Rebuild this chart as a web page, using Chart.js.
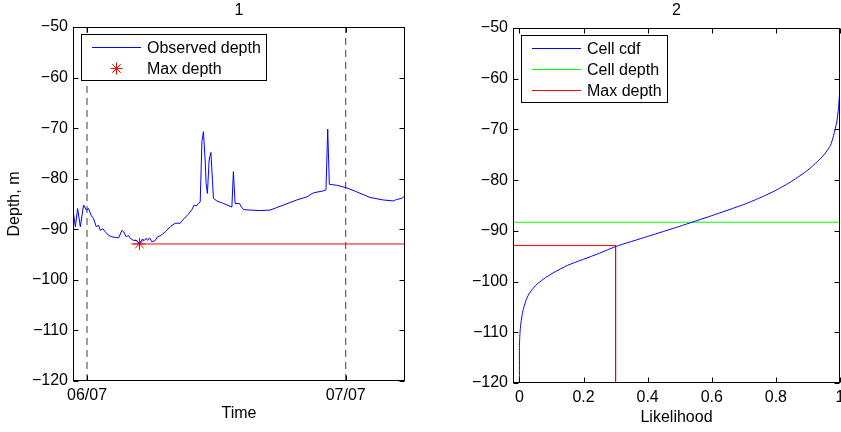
<!DOCTYPE html>
<html>
<head>
<meta charset="utf-8">
<title>Depth</title>
<script src="https://cdn.jsdelivr.net/npm/chart.js@4.4.1/dist/chart.umd.min.js"></script>
<style>
  html, body { margin: 0; padding: 0; background: #fff; overflow: hidden; }
  #wrap { position: relative; width: 841px; height: 432px; }
  #left { position: absolute; left: 0; top: 0; }
  #right { position: absolute; left: 420px; top: 0; }
</style>
</head>
<body>
<div id="wrap">
  <canvas id="left" width="420" height="432"></canvas>
  <canvas id="right" width="430" height="432"></canvas>
</div>
<script>
// panel 1: observed depth, x in hours after 06/07 00:00
const obsHours = [-1.30, -1.08, -0.87, -0.62, -0.32, -0.06, 0.15, 0.37, 0.61, 0.86,
  1.07, 1.23, 1.48, 1.70, 2.00, 2.32, 2.62, 2.93, 3.24, 3.40,
  3.64, 3.85, 4.01, 4.32, 4.63, 4.87, 5.10, 5.31, 5.49, 5.62,
  5.80, 6.02, 6.33, 6.54, 6.86, 7.26, 7.72, 8.18, 8.65, 8.95,
  9.41, 9.73, 9.94, 10.13, 10.34, 10.50, 10.66, 10.80, 10.96, 11.05,
  11.17, 11.33, 11.49, 11.64, 11.73, 12.05, 12.66, 13.44, 13.58, 13.74,
  14.14, 14.27, 14.51, 15.13, 16.06, 16.98, 17.61, 18.22, 19.46, 20.39,
  20.69, 21.00, 21.92, 22.17, 22.33, 22.48, 23.17, 24.09, 25.02, 26.25,
  27.48, 28.41, 28.72, 29.19, 29.49];
const obsDepth = [-86.2, -89.5, -85.9, -89.5, -85.2, -86.2, -85.9, -87.2, -87.9, -89.5,
  -89.2, -90.2, -89.9, -90.5, -91.2, -91.5, -91.6, -91.7, -90.2, -90.5,
  -91.5, -91.2, -91.8, -92.2, -92.2, -92.9, -92.0, -92.2, -91.8, -92.2,
  -91.7, -92.5, -92.2, -91.5, -91.2, -90.5, -89.5, -88.8, -88.8, -88.0,
  -87.0, -86.1, -85.2, -85.4, -84.9, -84.6, -72.7, -70.7, -76.3, -80.9,
  -82.9, -76.3, -74.8, -80.3, -83.9, -84.4, -84.9, -85.6, -78.6, -84.9,
  -84.9, -85.4, -86.1, -86.2, -86.3, -86.2, -85.7, -85.2, -84.2, -83.6,
  -83.2, -82.8, -82.4, -82.2, -70.2, -81.1, -81.3, -81.8, -82.6, -83.7,
  -84.2, -84.4, -84.1, -83.9, -83.4];
const timeTicks = [0, 24];
const timeTickLabels = ['06/07', '07/07'];
const timeRange = [-1.3, 29.5];
const maxDepthHour = 4.87;
const maxDepth = -92.9;
const maxLineStart = 4.1;

// panel 2: depth cdf of the cell
const cdfLikelihood = [0, 0, 0.001, 0.002, 0.004, 0.008, 0.012, 0.02, 0.03, 0.05,
  0.075, 0.105, 0.15, 0.2, 0.25, 0.30, 0.40, 0.50, 0.60, 0.70,
  0.75, 0.80, 0.85, 0.90, 0.93, 0.95, 0.97, 0.98, 0.99, 0.995,
  0.998, 1.0, 1.0];
const cdfDepth = [-120, -113, -111, -110, -108.5, -106.8, -105.5, -103.8, -102.4, -100.8,
  -99.5, -98.3, -96.8, -95.6, -94.4, -93.1, -91.1, -89.1, -87.0, -84.8,
  -83.5, -82.0, -80.2, -78.0, -76.3, -75.0, -73.2, -71.2, -68.5, -66.0,
  -63.5, -61.0, -50];
const cellDepth = -88.3;
const maxLikelihood = 0.30;
const likelihoodTicks = [0, 0.2, 0.4, 0.6, 0.8, 1];
const likelihoodRange = [-0.02, 1];

const depthRange = [-120, -50];
const depthTicks = [-120, -110, -100, -90, -80, -70, -60, -50];
const panelTitles = ['1', '2'];

const FONT = '"Liberation Sans", Arial, Helvetica, sans-serif';
const FONT_SIZE = 16;
Chart.defaults.font.family = FONT;
Chart.defaults.font.size = FONT_SIZE;
Chart.defaults.color = '#000';

function pts(xs, ys) {
    return xs.map((x, i) => ({x: x, y: ys[i]}));
}

function minusSign(v) {
    return String(v).replace('-', '\u2212');
}

// box around the axes, ticks pointing inward on all four sides
const matlabFrame = {
    id: 'matlabFrame',
    afterDatasetsDraw(chart) {
        const {ctx, chartArea: a, scales} = chart;
        const L = a.left + 0.5, R = a.right - 0.5, T = a.top + 0.5, B = a.bottom - 0.5;
        const len = 5;
        ctx.save();
        ctx.strokeStyle = '#000';
        ctx.lineWidth = 1;
        ctx.strokeRect(L, T, R - L, B - T);
        ctx.beginPath();
        scales.x.ticks.forEach(t => {
            const px = Math.round(scales.x.getPixelForValue(t.value)) + 0.5;
            ctx.moveTo(px, B); ctx.lineTo(px, B - len);
            ctx.moveTo(px, T); ctx.lineTo(px, T + len);
        });
        scales.y.ticks.forEach(t => {
            const py = Math.round(scales.y.getPixelForValue(t.value)) + 0.5;
            ctx.moveTo(L, py); ctx.lineTo(L + len, py);
            ctx.moveTo(R, py); ctx.lineTo(R - len, py);
        });
        ctx.stroke();
        ctx.restore();
    }
};

// legend in a bordered box at top left of the axes
const boxLegend = {
    id: 'boxLegend',
    afterDraw(chart) {
        const items = chart.data.datasets.filter(d => d.legendEntry);
        const {ctx, chartArea: a} = chart;
        ctx.save();
        ctx.font = FONT_SIZE + 'px ' + FONT;
        const x0 = Math.round(a.left + 8), y0 = Math.round(a.top + 7);
        const textX = x0 + 66;
        const w = 66 + Math.max(...items.map(d => ctx.measureText(d.label).width)) + 5;
        const h = Math.round(13.3 + 20.7 * (items.length - 1) + 12.4);
        ctx.fillStyle = '#fff';
        ctx.fillRect(x0 + 0.5, y0 + 0.5, w, h);
        ctx.strokeStyle = '#000';
        ctx.lineWidth = 1;
        ctx.strokeRect(x0 + 0.5, y0 + 0.5, Math.round(w), h);
        items.forEach((d, i) => {
            const y = Math.round(y0 + 13.3 + i * 20.7) + 0.5;
            ctx.strokeStyle = d.borderColor;
            ctx.lineWidth = 1;
            ctx.beginPath();
            if (d.showLine === false) {
                const cx = x0 + 35.5, r = d.pointRadius;
                const k = r * Math.SQRT1_2;
                ctx.moveTo(cx - r, y); ctx.lineTo(cx + r, y);
                ctx.moveTo(cx, y - r); ctx.lineTo(cx, y + r);
                ctx.moveTo(cx - k, y - k); ctx.lineTo(cx + k, y + k);
                ctx.moveTo(cx - k, y + k); ctx.lineTo(cx + k, y - k);
            } else {
                ctx.moveTo(x0 + 11, y); ctx.lineTo(x0 + 60, y);
            }
            ctx.stroke();
            ctx.fillStyle = '#000';
            ctx.textBaseline = 'middle';
            ctx.textAlign = 'left';
            ctx.fillText(d.label, textX, y + 1);
        });
        ctx.restore();
    }
};

function baseOptions(title, padRight, titleBottom, xHeight, yWidth) {
    return {
        animation: false,
        responsive: false,
        devicePixelRatio: 1,
        layout: {padding: {left: 0, right: padRight, top: 0, bottom: 0}},
        plugins: {
            legend: {display: false},
            tooltip: {enabled: false},
            colors: {enabled: false},
            title: {
                display: true, text: title, fullSize: false, color: '#000',
                font: {size: FONT_SIZE, weight: 'normal'},
                padding: {top: 1, bottom: titleBottom}
            }
        },
        scales: {
            x: {
                type: 'linear',
                afterFit: s => { s.height = xHeight; },
                grid: {display: false, drawTicks: false},
                border: {display: false},
                ticks: {padding: 5, color: '#000', maxRotation: 0, autoSkip: false}
            },
            y: {
                type: 'linear',
                min: depthRange[0],
                max: depthRange[1],
                afterBuildTicks: s => { s.ticks = depthTicks.map(v => ({value: v})); },
                afterFit: s => { s.width = yWidth; },
                grid: {display: false, drawTicks: false},
                border: {display: false},
                ticks: {padding: 5, color: '#000', callback: v => minusSign(v)}
            }
        }
    };
}

// panel 1
const leftOpts = baseOptions(panelTitles[0], 15, 6.8, 51, 73);
Object.assign(leftOpts.scales.x, {
    min: timeRange[0],
    max: timeRange[1],
    afterBuildTicks: s => { s.ticks = timeTicks.map(v => ({value: v})); },
    title: {display: true, text: 'Time', color: '#000', font: {size: FONT_SIZE}, padding: {top: 0, bottom: 9}}
});
leftOpts.scales.x.ticks.callback = v => timeTickLabels[timeTicks.indexOf(v)];
leftOpts.scales.y.title = {display: true, text: 'Depth, m', color: '#000', font: {size: FONT_SIZE}, padding: {top: 5, bottom: 0}};

const dayLines = timeTicks.map(t => ({
    label: 'day ' + t,
    data: pts([t, t], depthRange),
    borderColor: '#404040',
    borderDash: [7, 5],
    borderWidth: 1,
    pointRadius: 0
}));

new Chart(document.getElementById('left'), {
    type: 'line',
    data: {
        datasets: [
            {
                label: 'Observed depth',
                data: pts(obsHours, obsDepth),
                borderColor: '#0000ff',
                borderWidth: 1,
                pointRadius: 0,
                legendEntry: true
            },
            {
                label: 'Max depth',
                data: pts([maxDepthHour], [maxDepth]),
                showLine: false,
                pointStyle: 'star',
                pointRadius: 6,
                borderColor: '#ff0000',
                backgroundColor: '#ff0000',
                borderWidth: 1,
                legendEntry: true
            },
            {
                label: 'max line',
                data: pts([maxLineStart, timeRange[1]], [maxDepth, maxDepth]),
                borderColor: '#ff0000',
                borderWidth: 1,
                pointRadius: 0
            },
            ...dayLines
        ]
    },
    options: leftOpts,
    plugins: [matlabFrame, boxLegend]
});

// panel 2
const rightOpts = baseOptions(panelTitles[1], 10, 7.8, 49, 93);
Object.assign(rightOpts.scales.x, {
    min: likelihoodRange[0],
    max: likelihoodRange[1],
    afterBuildTicks: s => { s.ticks = likelihoodTicks.map(v => ({value: v})); },
    title: {display: true, text: 'Likelihood', color: '#000', font: {size: FONT_SIZE}, padding: {top: 0, bottom: 5}}
});
rightOpts.scales.x.ticks.callback = v => String(Math.round(v * 10) / 10);

new Chart(document.getElementById('right'), {
    type: 'line',
    data: {
        datasets: [
            {
                label: 'Cell cdf',
                data: pts(cdfLikelihood, cdfDepth),
                borderColor: '#0000ff',
                borderWidth: 1,
                pointRadius: 0,
                tension: 0.2,
                legendEntry: true
            },
            {
                label: 'Cell depth',
                data: pts(likelihoodRange, [cellDepth, cellDepth]),
                borderColor: '#00ff00',
                borderWidth: 1,
                pointRadius: 0,
                legendEntry: true
            },
            {
                label: 'Max depth',
                data: pts([likelihoodRange[0], maxLikelihood, maxLikelihood], [maxDepth, maxDepth, depthRange[0]]),
                borderColor: '#ff0000',
                borderWidth: 1,
                pointRadius: 0,
                legendEntry: true
            }
        ]
    },
    options: rightOpts,
    plugins: [matlabFrame, boxLegend]
});
</script>
</body>
</html>
